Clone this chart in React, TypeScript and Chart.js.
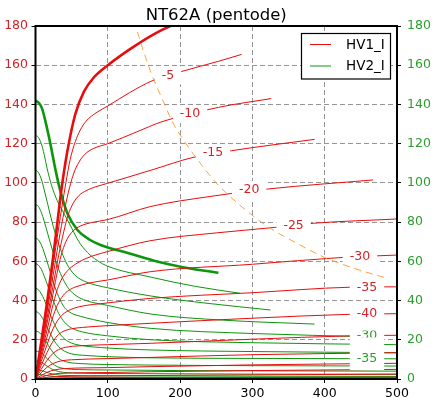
import React, { useEffect, useRef } from 'react';
import { Chart, registerables } from 'chart.js';
Chart.register(...registerables);

type Pt = [number, number];

const title = 'NT62A (pentode)';
const legendLabels = ['HV1_I', 'HV2_I'];

// Plate current curves (HV1_I), grid 0, -5, -10 ... -70
const plate0: Pt[] = [[0,0],[8,19],[16,39],[24,61],[30,79],[36,97],[44,116],[55,135],[67,146.5],[80,153.5],[100,160],[136,169.5],[175,178],[220,185]];
const plate5: Pt[] = [[0,0],[8,18],[16,37],[24,57],[32,77],[42,100],[48,112],[55,121],[62,127],[70,131.5],[85,136],[100,139.2],[130,146],[161,152],[204,157],[253,162],[285,165.5]];
const plate10: Pt[] = [[0,0],[8,16.5],[16,34],[24,52],[32,70],[40,86],[47,97.5],[53,105],[60,110.5],[68,114.5],[80,117.5],[100,120],[140,126],[175,131.2],[253,138.5],[326,143]];
const plate15: Pt[] = [[0,0],[8,15.5],[16,31],[24,47],[32,63],[39,75],[45,83.5],[52,89.5],[60,93.5],[70,96],[85,98.2],[100,99.8],[160,106.5],[218,113],[271,116.4],[386,122.2]];
const plate20: Pt[] = [[0,0],[8,14],[16,28.5],[24,43],[31,56],[37,65],[44,71.5],[52,75.5],[62,78],[78,79.8],[100,81.3],[158.6,87.9],[240,93],[322,96.9],[467,101.5]];
const plate25: Pt[] = [[0,0],[8,12.5],[16,25],[23,36],[30,45.5],[37,51.5],[45,55.5],[55,58.5],[70,61.5],[100,65],[158.6,70.5],[250,74.5],[331,77.3],[384,79.4],[500,81.6]];
const plate30: Pt[] = [[0,0],[8,11],[16,21.5],[23,30.5],[30,37.5],[38,42.5],[46,45.2],[56,47],[75,49],[100,50.5],[158.6,54.7],[300,58.5],[425,62],[500,63.2]];
const plate35: Pt[] = [[0,0],[8,9],[16,17.5],[23,24.5],[30,29.5],[38,33],[48,35.3],[60,36.8],[100,38.8],[158.6,41.1],[300,44],[435,46.8],[500,47]];
const plate40: Pt[] = [[0,0],[8,7],[16,13.5],[23,18.5],[30,22],[38,24.2],[50,25.6],[65,26.3],[100,27.2],[158.6,28.4],[300,31],[435,33],[500,33.3]];
const plate45: Pt[] = [[0,0],[8,5],[16,9.5],[24,13],[32,15],[42,16.2],[60,16.9],[100,17.5],[158.6,18.2],[300,20.3],[435,22],[500,22.3]];
const plate50: Pt[] = [[0,0],[8,3.2],[16,6],[25,8],[35,9.2],[50,9.8],[100,10.4],[158.6,11],[300,12.4],[500,13.4]];
const plate55: Pt[] = [[0,0],[8,1.8],[16,3.4],[26,4.6],[40,5.3],[100,5.8],[158.6,6.3],[300,7.2],[500,8]];
const plate60: Pt[] = [[0,0],[10,1.2],[20,2.2],[35,2.9],[100,3.3],[160,3.7],[300,4.3],[500,4.9]];
const plate65: Pt[] = [[0,0],[12,0.7],[30,1.2],[100,1.6],[300,2.1],[500,2.5]];
const plate70: Pt[] = [[0,0],[20,0.4],[100,0.6],[500,0.9]];

// Screen current curves (HV2_I)
const screen0: Pt[] = [[0,142],[5,140.6],[9,138],[14,131],[20,121],[28,106],[35,95],[44,84.5],[58,76],[75,71],[90,68.3],[130,64],[164,60.3],[204,57],[253,54.2]];
const screen5: Pt[] = [[0,124.4],[4,123.2],[8,120],[12,114.5],[16,107.5],[22,99],[30,91],[40,84],[50,77],[60,70],[72,64.5],[85,60.5],[100,57.5],[160,51.9],[220,47.3],[283,43.7]];
const screen10: Pt[] = [[0,106.6],[4,105.3],[8,102],[12,96.5],[17,89],[23,80],[30,71],[38,63],[46,57],[56,52.5],[70,49.5],[100,46.5],[160,42.3],[240,38.5],[325,35.2]];
const screen15: Pt[] = [[0,89],[4,88],[8,85],[12,80.5],[17,74],[24,65],[31,57],[38,51],[46,46],[56,42.5],[70,40],[100,37.5],[160,33.1],[260,30],[386,28]];
const screen20: Pt[] = [[0,72],[4,71],[8,68.5],[12,64.5],[18,57.5],[25,49],[32,42],[40,36.5],[50,33.5],[62,32],[80,30.3],[100,28.8],[160,25.8],[300,23.2],[467,21.5]];
const screen25: Pt[] = [[0,59],[4,58],[8,56],[12,52.5],[18,46.5],[25,39.5],[32,33.5],[40,29],[50,26],[65,24],[100,22],[160,20],[300,18.5],[500,17.5]];
const screen30: Pt[] = [[0,46.4],[4,45.5],[8,43.5],[12,40.5],[18,35],[25,29],[32,24],[40,20.5],[50,18.3],[65,17],[100,15.8],[160,14.8],[300,14],[500,13.4]];
const screen35: Pt[] = [[0,34.5],[4,33.8],[8,32],[12,29.5],[18,25],[25,20],[32,16.5],[40,14.2],[50,12.8],[70,12],[100,11.4],[160,10.8],[300,10.5],[500,10.3]];
const screen40: Pt[] = [[0,24.5],[4,24],[8,22.7],[12,20.7],[18,17],[25,13.2],[32,10.5],[42,8.8],[60,7.9],[100,7.4],[160,7.1],[300,6.8],[500,6.6]];
const screen45: Pt[] = [[0,14.3],[5,13.8],[10,12.6],[16,10.5],[23,8],[30,6.3],[40,5.3],[60,4.8],[100,4.6],[200,4.3],[500,4]];
const screen50: Pt[] = [[0,9.2],[5,8.8],[10,8],[16,6.6],[23,5],[32,3.8],[45,3.2],[100,2.8],[500,2.4]];
const screen55: Pt[] = [[0,4.8],[5,4.6],[10,4.1],[18,3.1],[28,2.2],[45,1.8],[100,1.6],[500,1.3]];
const screen60: Pt[] = [[0,2.5],[10,2.1],[20,1.5],[35,1],[100,0.8],[500,0.6]];

// Max dissipation curve
const dissipation: Pt[] = [[141,177],[150,166.5],[160,156],[175,143],[191,130],[210,119],[230,109],[250,100],[280,89.5],[320,78],[360,69.5],[400,62],[440,56.5],[488,51.2]];

// Inline labels
const plateLabelText = ['-5', '-10', '-15', '-20', '-25', '-30', '-35', '-40'];
const plateLabelV = [183.3, 213.7, 245.5, 295.5, 357, 448.8, 458.5, 458.5];
const plateLabelI = [154.8, 135.1, 115.2, 96.4, 78.2, 62.2, 46.7, 33.4];
const screenLabelText = ['-30', '-35'];
const screenLabelV = [458.5, 458.5];
const screenLabelI = [21.9, 10.2];

const plateCurves = [plate0, plate5, plate10, plate15, plate20, plate25, plate30, plate35, plate40, plate45, plate50, plate55, plate60, plate65, plate70];
const screenCurves = [screen0, screen5, screen10, screen15, screen20, screen25, screen30, screen35, screen40, screen45, screen50, screen55, screen60];

const RED = 'rgb(232,12,12)';
const GREEN = 'rgb(12,150,12)';
const RED_TXT = '#d42226';
const GREEN_TXT = '#2a9e2a';
const FONT = '"DejaVu Sans", sans-serif';

const toXY = (c: Pt[]) => c.map(([x, y]) => ({ x, y }));

export default function App() {
  const ref = useRef<HTMLCanvasElement>(null);
  useEffect(() => {
    document.body.style.margin = '0';
    const datasets: any[] = [];
    plateCurves.forEach((c, k) => datasets.push({
      label: k === 0 ? legendLabels[0] : '', data: toXY(c), borderColor: RED,
      borderWidth: k === 0 ? 2.6 : 1, pointRadius: 0, cubicInterpolationMode: 'monotone', order: 1, fill: false,
    }));
    screenCurves.forEach((c, k) => datasets.push({
      label: k === 0 ? legendLabels[1] : '', data: toXY(c), borderColor: GREEN,
      borderWidth: k === 0 ? 2.6 : 1, pointRadius: 0, cubicInterpolationMode: 'monotone', order: 2, fill: false,
    }));
    const dissIndex = datasets.length;
    datasets.push({
      label: '', data: toXY(dissipation), borderColor: 'rgb(248,165,55)', borderWidth: 1,
      borderDash: [7, 5], pointRadius: 0, cubicInterpolationMode: 'monotone', order: 0, fill: false,
    });

    const drawLabel = (ctx: CanvasRenderingContext2D, chart: any, text: string, v: number, i: number, color: string, h: number, band?: [number, number]) => {
      const x = chart.scales.x.getPixelForValue(v);
      const y = chart.scales.y.getPixelForValue(i);
      ctx.font = `12.5px ${FONT}`;
      const w = ctx.measureText(text).width;
      ctx.fillStyle = '#fff';
      ctx.fillRect(x - w / 2 - 7, y - h / 2, w + 14, h);
      ctx.save();
      if (band) { ctx.beginPath(); ctx.rect(x - 30, y + band[0], 60, band[1] - band[0]); ctx.clip(); }
      ctx.fillStyle = color; ctx.textAlign = 'center'; ctx.textBaseline = 'middle';
      ctx.fillText(text, x, y);
      ctx.restore();
    };

    const overlay = {
      id: 'overlay',
      beforeDatasetDraw(chart: any, args: any) {
        if (args.index !== dissIndex) return;
        const ctx = chart.ctx;
        ctx.save();
        plateLabelText.forEach((t, k) => drawLabel(ctx, chart, t, plateLabelV[k], plateLabelI[k], RED_TXT, 18));
        screenLabelText.forEach((t, k) => drawLabel(ctx, chart, t, screenLabelV[k], screenLabelI[k], GREEN_TXT, 22, k === 0 ? [-5.5, 1.5] : undefined));
        ctx.restore();
      },
      afterDraw(chart: any) {
        const ctx = chart.ctx;
        const a = chart.chartArea;
        ctx.save();
        ctx.strokeStyle = '#000'; ctx.lineWidth = 2;
        ctx.strokeRect(a.left, a.top, a.right - a.left, a.bottom - a.top);
        ctx.fillStyle = '#000'; ctx.font = `16.5px ${FONT}`; ctx.textAlign = 'center'; ctx.textBaseline = 'alphabetic';
        ctx.fillText(title, (a.left + a.right) / 2, 19.5);
        // legend
        const lx = 301.5, ly = 33.5, lw = 89, lh = 45.5;
        ctx.fillStyle = '#fff'; ctx.fillRect(lx, ly, lw, lh);
        ctx.lineWidth = 1.2; ctx.strokeStyle = '#000'; ctx.strokeRect(lx, ly, lw, lh);
        const cols = [RED, GREEN];
        const ys = [44.5, 66];
        legendLabels.forEach((t, k) => {
          ctx.strokeStyle = cols[k]; ctx.lineWidth = 1;
          ctx.beginPath(); ctx.moveTo(310, ys[k]); ctx.lineTo(331, ys[k]); ctx.stroke();
          ctx.fillStyle = '#000'; ctx.font = `13.5px ${FONT}`; ctx.textAlign = 'left'; ctx.textBaseline = 'middle';
          ctx.fillText(t, 346, ys[k] + 0.5);
        });
        ctx.restore();
      },
    };

    const chart = new Chart(ref.current!, {
      type: 'line',
      data: { datasets },
      plugins: [overlay],
      options: {
        animation: false, responsive: false, devicePixelRatio: 1,
        layout: { padding: { top: 26, left: 0, right: 0, bottom: 0 } },
        plugins: { legend: { display: false }, tooltip: { enabled: false }, title: { display: false } },
        elements: { line: { tension: 0 } },
        scales: {
          x: {
            type: 'linear', min: 0, max: 500,
            ticks: { stepSize: 100, color: '#000', font: { family: FONT, size: 12.5 }, padding: 3, maxRotation: 0, autoSkip: false },
            grid: { color: '#959595', lineWidth: 1, drawTicks: true, tickLength: 4, tickColor: '#000', tickBorderDash: [] },
            border: { display: false, dash: [5, 3] },
            afterFit: (s: any) => { s.height = 19; },
          },
          y: {
            position: 'left', min: 0, max: 180,
            ticks: { stepSize: 20, color: RED_TXT, font: { family: FONT, size: 12.5 }, padding: 3.5 },
            grid: { color: '#959595', lineWidth: 1, drawTicks: true, tickLength: 4, tickColor: '#000', tickBorderDash: [] },
            border: { display: false, dash: [5, 3] },
            afterFit: (s: any) => { s.width = 35.5; },
          },
          y2: {
            position: 'right', min: 0, max: 180,
            ticks: { stepSize: 20, color: GREEN_TXT, font: { family: FONT, size: 12.5 }, padding: 6 },
            grid: { drawOnChartArea: false, drawTicks: true, tickLength: 4, tickColor: '#000' },
            border: { display: false },
            afterFit: (s: any) => { s.width = 39; },
          },
        },
      } as any,
    });
    return () => chart.destroy();
  }, []);
  return (
    <div style={{ position: 'fixed', left: 0, top: 0, width: 436, height: 398, background: '#fff' }}>
      <canvas ref={ref} width={436} height={398} style={{ display: 'block', width: 436, height: 398 }} />
    </div>
  );
}
